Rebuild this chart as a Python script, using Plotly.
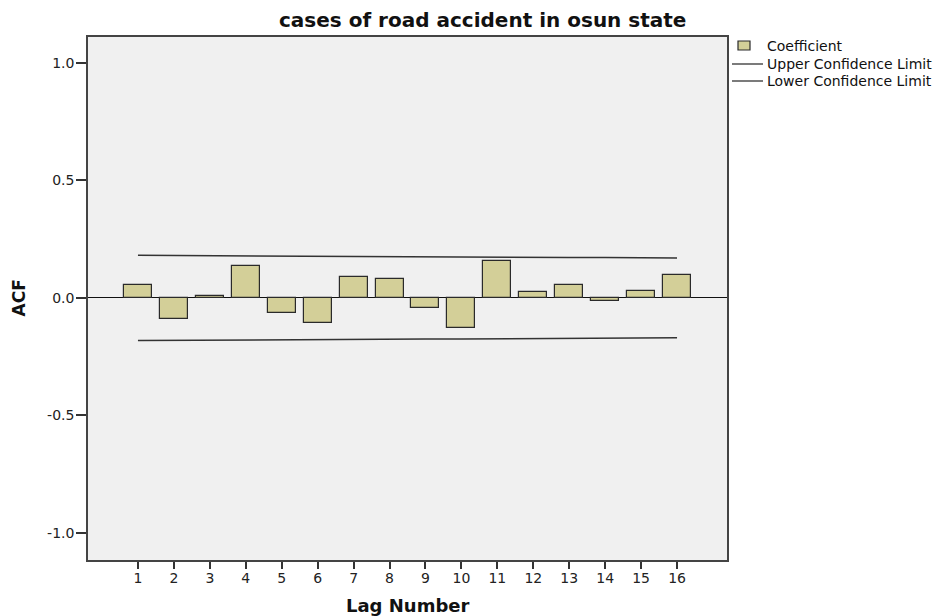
import plotly.graph_objects as go

lags = list(range(1, 17))
acf = [0.055, -0.090, 0.008, 0.136, -0.065, -0.105, 0.088, 0.080,
       -0.041, -0.129, 0.157, 0.024, 0.054, -0.013, 0.031, 0.098]
upper = [0.181, 0.180, 0.180, 0.179, 0.178, 0.178, 0.177, 0.176,
         0.175, 0.175, 0.174, 0.173, 0.172, 0.172, 0.171, 0.170]
lower = [-u for u in upper]
y_ticks = [-1.0, -0.5, 0.0, 0.5, 1.0]
legend_labels = ["Coefficient", "Upper Confidence Limit", "Lower Confidence Limit"]

FONT = "DejaVu Sans, Verdana, sans-serif"
BAR_FILL = "#d3cf98"
EDGE = "#2a2a2a"

# plot-area pixel box in the reference picture (for placing decorations)
PL, PR, PT, PB = 88, 727, 37, 560
def px(x):
    return (x - PL) / (PR - PL)
def py(y):
    return (PB - y) / (PB - PT)

fig = go.Figure()
fig.add_trace(go.Bar(
    x=lags, y=acf, width=0.78, name=legend_labels[0],
    marker=dict(color=BAR_FILL, line=dict(color=EDGE, width=1.2)),
))
fig.add_trace(go.Scatter(
    x=lags, y=upper, mode="lines", name=legend_labels[1],
    line=dict(color="#333333", width=1.5),
))
fig.add_trace(go.Scatter(
    x=lags, y=lower, mode="lines", name=legend_labels[2],
    line=dict(color="#333333", width=1.5),
))

# page body has an 8px margin, so the figure is offset by 8px
OFF = 8
W, H = 946 - OFF, 616 - OFF
fig.update_layout(
    width=W, height=H,
    margin=dict(l=PL - OFF, r=W - (PR - OFF), t=PT - OFF, b=H - (PB - OFF), autoexpand=False),
    paper_bgcolor="white", plot_bgcolor="#f0f0f0",
    font=dict(family=FONT, size=13, color="#222222"),
    showlegend=False,
    bargap=0,
)

annotations = [
    dict(text="<b>cases of road accident in osun state</b>", x=px(482), y=py(20),
         xref="paper", yref="paper", xanchor="center", yanchor="middle",
         showarrow=False, font=dict(size=20, color="#111111", family=FONT)),
    dict(text="<b>Lag Number</b>", x=0.5, y=py(605),
         xref="paper", yref="paper", xanchor="center", yanchor="middle",
         showarrow=False, font=dict(size=18, color="#111111", family=FONT)),
    dict(text="<b>ACF</b>", x=px(18), y=0.5, textangle=-90,
         xref="paper", yref="paper", xanchor="center", yanchor="middle",
         showarrow=False, font=dict(size=17, color="#111111", family=FONT)),
]
legend_y = [46, 64, 81]
for lab, ly in zip(legend_labels, legend_y):
    annotations.append(dict(text=lab, x=px(765), y=py(ly), xref="paper", yref="paper",
                            xanchor="left", yanchor="middle", showarrow=False,
                            font=dict(size=14, color="#111111", family=FONT)))
fig.update_layout(annotations=annotations)

shapes = [
    dict(type="rect", xref="paper", yref="paper", x0=px(738), x1=px(750),
         y0=py(50), y1=py(41), fillcolor=BAR_FILL, line=dict(color=EDGE, width=1.2)),
    dict(type="line", xref="paper", yref="paper", x0=px(732), x1=px(763),
         y0=py(legend_y[1]), y1=py(legend_y[1]), line=dict(color="#222222", width=1.2)),
    dict(type="line", xref="paper", yref="paper", x0=px(732), x1=px(763),
         y0=py(legend_y[2]), y1=py(legend_y[2]), line=dict(color="#222222", width=1.2)),
]
fig.update_layout(shapes=shapes)

fig.update_xaxes(
    range=[-0.39, 17.39], tickmode="array", tickvals=lags,
    ticktext=[str(l) for l in lags], tickfont=dict(size=14, color="#222222", family=FONT),
    ticks="outside", ticklen=7, tickwidth=1.5, tickcolor="#333333", ticklabelstandoff=-3,
    showline=True, linecolor="#444444", linewidth=1.5, mirror=True,
    showgrid=False, zeroline=False, automargin=False,
)
fig.update_yaxes(
    range=[-1.115, 1.11], tickmode="array", tickvals=y_ticks,
    ticktext=[f"{v:.1f}" for v in y_ticks], tickfont=dict(size=14, color="#222222", family=FONT),
    ticks="outside", ticklen=10, tickwidth=1.5, tickcolor="#333333", ticklabelstandoff=-1,
    showline=True, linecolor="#444444", linewidth=1.5, mirror=True,
    showgrid=False, zeroline=True, zerolinecolor="#111111", zerolinewidth=1.3,
    automargin=False,
)

fig.write_html("out.html")
